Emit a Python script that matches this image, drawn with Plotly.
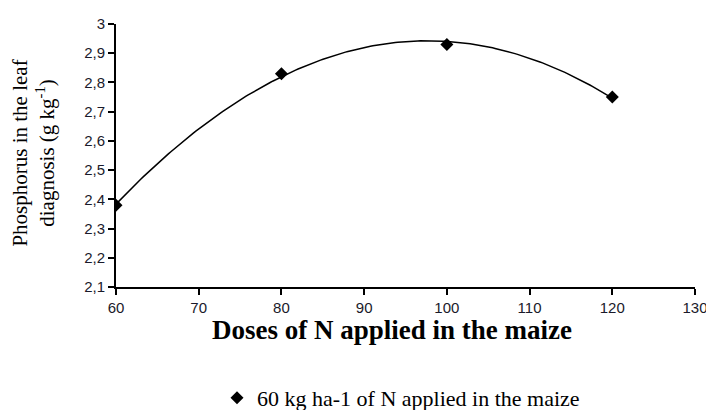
import numpy as np
import plotly.graph_objects as go

doses = [60, 80, 100, 120]
phosphorus = [2.38, 2.83, 2.93, 2.75]
series_name = "60 kg ha-1 of N applied in the maize"
y_ticks = [2.1, 2.2, 2.3, 2.4, 2.5, 2.6, 2.7, 2.8, 2.9, 3.0]
x_ticks = [60, 70, 80, 90, 100, 110, 120, 130]
x_title = "Doses of N applied in the maize"
y_title = "Phosphorus in the leaf<br>diagnosis (g kg<sup>-1</sup>)"

# quadratic trendline fitted to the observed points
coef = np.polyfit(doses, phosphorus, 2)
xs = np.linspace(min(doses), max(doses), 200)
ys = np.polyval(coef, xs)

fig = go.Figure()
fig.add_trace(go.Scatter(x=xs, y=ys, mode="lines", line=dict(color="black", width=1.5),
                         showlegend=False, hoverinfo="skip"))
fig.add_trace(go.Scatter(x=doses, y=phosphorus, mode="markers", name=series_name,
                         marker=dict(symbol="diamond", size=10, color="black")))

tick_font = dict(family="Liberation Sans", size=15, color="#1a1a2a")

# page body has an 8px margin, so the figure is sized to end exactly at the window edge
fig.update_layout(
    width=706, height=402,
    margin=dict(l=108, r=19, t=16, b=123, autoexpand=False),
    paper_bgcolor="white", plot_bgcolor="white",
    separators=",.",
    showlegend=True,
    legend=dict(orientation="h", xref="container", yref="container",
                x=0.296, xanchor="left", y=0.03, yanchor="middle",
                font=dict(family="Liberation Serif", size=22, color="black"),
                itemwidth=30, bgcolor="rgba(0,0,0,0)"),
    xaxis=dict(range=[60, 130], tickvals=x_ticks, showgrid=False, zeroline=False,
               showline=True, linecolor="black", linewidth=2,
               ticks="outside", ticklen=6, tickwidth=2, tickcolor="black",
               tickfont=tick_font, automargin=False),
    yaxis=dict(range=[2.1, 3.0], tickvals=y_ticks, showgrid=False, zeroline=False,
               showline=True, linecolor="black", linewidth=2,
               ticks="outside", ticklen=6, tickwidth=2, tickcolor="black",
               tickfont=tick_font, automargin=False),
    annotations=[
        dict(text="<b>" + x_title + "</b>", xref="paper", yref="paper",
             x=0.476, y=-0.1, xanchor="center", yanchor="top", showarrow=False,
             font=dict(family="Liberation Serif", size=27, color="black")),
        dict(text=y_title, xref="paper", yref="paper", textangle=-90,
             x=-0.143, y=0.508, xanchor="center", yanchor="middle", showarrow=False,
             font=dict(family="Liberation Serif", size=21, color="black")),
    ],
)

fig.write_html("out.html")
